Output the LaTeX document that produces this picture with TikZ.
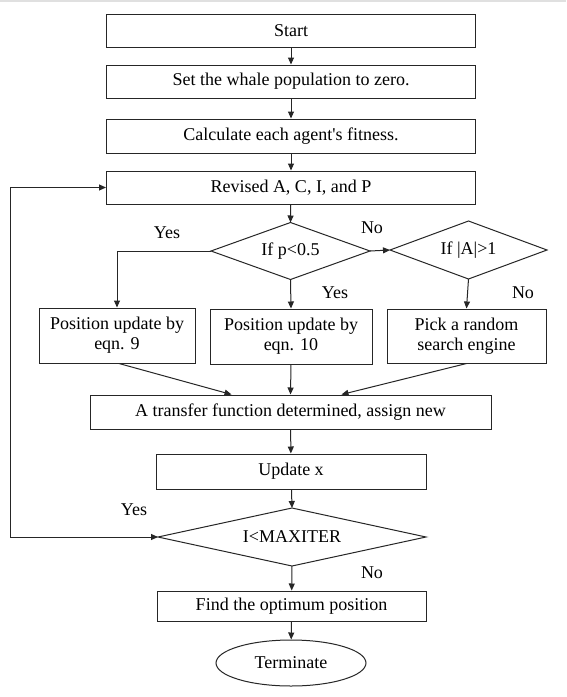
\documentclass[tikz,border=0pt]{standalone}
\usepackage{fontspec}
\setmainfont{Liberation Serif}
\usetikzlibrary{arrows.meta,shapes.geometric,calc}
\begin{document}
\begin{tikzpicture}[x=1pt,y=-1pt,
  every node/.style={font=\fontsize{18}{20}\selectfont, text=black},
  box/.style={draw=black!85, line width=1pt, rectangle, inner sep=0pt, align=center},
  dia/.style={rectangle, inner sep=0pt, outer sep=0pt},
  diaedge/.style={draw=black!85, line width=1pt, line join=miter},
  arr/.style={draw=black!85, line width=1pt, -{Triangle[length=7pt,width=6pt]}},
  lbl/.style={inner sep=0pt}]
\useasboundingbox[fill=white] (0,0) rectangle (566,697);
\fill[black!12] (0,0) rectangle (566,1.5);
\node[box, minimum width=369, minimum height=33] (start) at (291,30.5) {Start};
\node[box, minimum width=369, minimum height=33] (setz) at (291,81.5) {Set the whale population to zero.};
\node[box, minimum width=369, minimum height=34] (calc) at (291,136) {Calculate each agent\textquotesingle s fitness.};
\node[box, minimum width=369, minimum height=33] (rev) at (291,187.5) {Revised A, C, I, and P};
\node[dia, minimum width=159, minimum height=57] (d1) at (290.5,251) {If p<0.5};
\node[dia, minimum width=157, minimum height=58] (d2) at (468.5,250) {If |A|>1};
\node[box, minimum width=156, minimum height=55] (b1) at (117,335.5) {Position update by\\eqn. 9};
\node[box, minimum width=162, minimum height=55] (b2) at (291,336.5) {Position update by\\eqn. 10};
\node[box, minimum width=159, minimum height=54] (b3) at (466.5,336) {Pick a random\\search engine};
\node[box, minimum width=401, minimum height=34] (tf) at (290.5,412) {A transfer function determined, assign new};
\node[box, minimum width=270, minimum height=35] (upd) at (291,471.5) {Update x};
\node[dia, minimum width=268, minimum height=58] (d3) at (292,537) {I<MAXITER};
\node[box, minimum width=269, minimum height=30] (find) at (291.5,606) {Find the optimum position};
\node[draw=black!85, line width=1pt, ellipse, inner sep=0pt, minimum width=150, minimum height=46] (term) at (291,663) {Terminate};
\foreach \d in {d1,d2,d3}
  \draw[diaedge] (\d.west) -- (\d.north) -- (\d.east) -- (\d.south) -- cycle;
\node[lbl] (y1) at (167,233) {Yes};
\node[lbl] (n1) at (372,228) {No};
\node[lbl] (y2) at (335,293) {Yes};
\node[lbl] (n2) at (523,293) {No};
\node[lbl] (y3) at (134,510) {Yes};
\node[lbl] (n3) at (372,573) {No};
\coordinate (lp) at (10,537);
\draw[arr] (start) -- (setz);
\draw[arr] (setz) -- (calc);
\draw[arr] (calc) -- (rev);
\draw[arr] (rev) -- (d1.north);
\draw[arr] (d1.east) -- (d2.west);
\draw[arr] (d1.west) -| (b1.north);
\draw[arr] (d1.south) -- (b2.north);
\draw[arr] (d2.south) -- (b3.north);
\draw[arr] ([xshift=2pt]b1.south) -- ([xshift=-59pt]tf.north);
\draw[arr] (b2.south) -- (tf.north);
\draw[arr] (b3.south) -- ([xshift=51pt]tf.north);
\draw[arr] (tf) -- (upd);
\draw[arr] (upd) -- (d3.north);
\draw[arr] (d3.south) -- (find);
\draw[arr] (find) -- (term);
\draw[draw=black!85, line width=1pt, {Triangle[length=7pt,width=6pt]}-{Triangle[length=7pt,width=6pt]}] (d3.west) -- (lp) |- (rev.west);
\end{tikzpicture}
\end{document}
